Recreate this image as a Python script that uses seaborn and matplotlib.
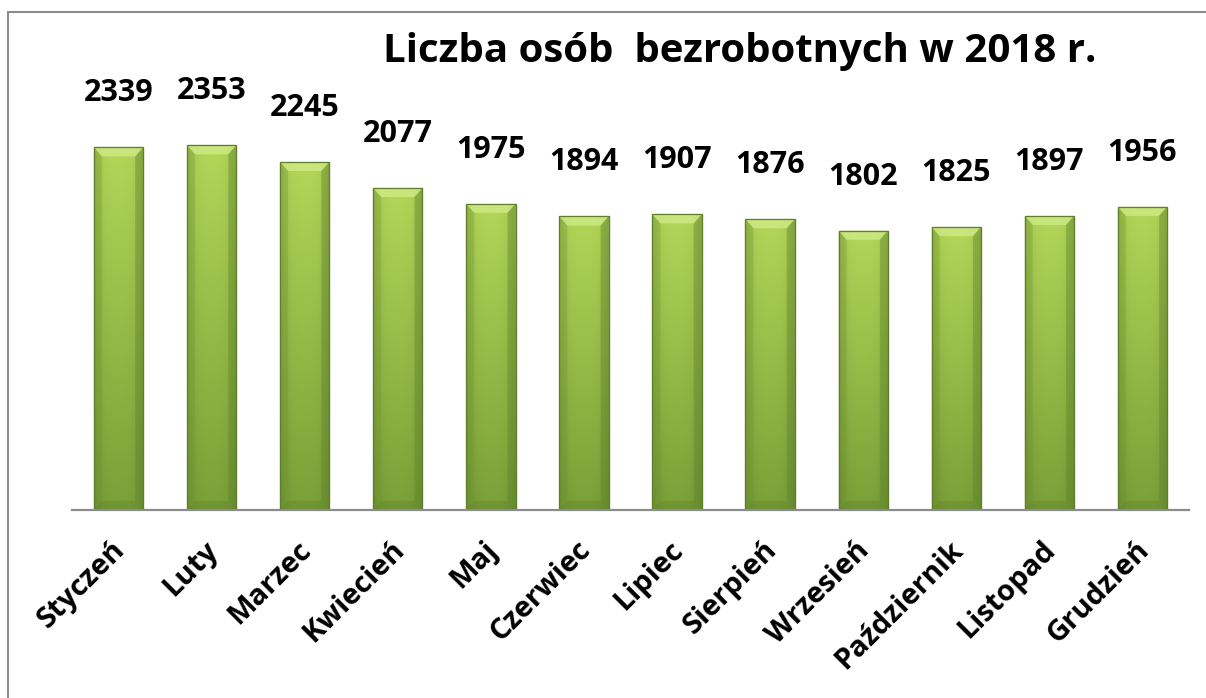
import numpy as np
import pandas as pd
import matplotlib
matplotlib.use("Agg")
import matplotlib.pyplot as plt
from matplotlib.patches import Polygon
import seaborn as sns

months = ["Styczeń", "Luty", "Marzec", "Kwiecień", "Maj", "Czerwiec", "Lipiec",
          "Sierpień", "Wrzesień", "Październik", "Listopad", "Grudzień"]
unemployed = [2339, 2353, 2245, 2077, 1975, 1894, 1907, 1876, 1802, 1825, 1897, 1956]
title = "Liczba osób  bezrobotnych w 2018 r."

sns.set_theme(style="white")
plt.rcParams["font.family"] = ["Open Sans", "DejaVu Sans"]

W, H = 1206, 698
fig = plt.figure(figsize=(W / 100, H / 100), dpi=100)
fig.patch.set_facecolor("white")
ax = fig.add_axes([72 / W, 1 - 510 / H, (1189 - 72) / W, 465 / H])

df = pd.DataFrame({"month": months, "value": unemployed})
sns.barplot(data=df, x="month", y="value", color="#97c04a", width=0.53,
            edgecolor="#5f7f2c", linewidth=0.8, saturation=1, ax=ax)
ax.set_ylim(0, 3000)
ax.set_xlim(-0.5, len(months) - 0.5)
ax.set_xlabel("")
ax.set_ylabel("")
ax.set_yticks([])
for s in ["top", "left", "right"]:
    ax.spines[s].set_visible(False)
ax.spines["bottom"].set_color("#8c8c8c")
ax.spines["bottom"].set_linewidth(1.6)
ax.tick_params(axis="x", length=0, pad=4)

# gradient fill with bevel look
py = ax.bbox.height / 3000.0
px = ax.bbox.width / len(months)
bx, by = 8 / px, 9 / py
top_c = np.array([178, 214, 88]) / 255
bot_c = np.array([122, 160, 56]) / 255
for p in ax.patches:
    x0, w, h = p.get_x(), p.get_width(), p.get_height()
    t = np.linspace(0, 1, 64)[:, None]
    s = np.linspace(-1, 1, 32)[None, :]
    col = top_c[None, None, :] * (1 - t[..., None]) + bot_c[None, None, :] * t[..., None]
    shade = (1 - 0.12 * np.abs(s) ** 3)[..., None]
    img = np.clip(col * shade, 0, 1)
    im = ax.imshow(img, extent=[x0, x0 + w, 0, h], aspect="auto", origin="upper",
                   zorder=p.get_zorder() + 0.1, interpolation="bilinear")
    im.set_clip_path(p)
    ax.add_patch(Polygon([(x0, h), (x0 + w, h), (x0 + w - bx, h - by), (x0 + bx, h - by)],
                         closed=True, fc="#d2ec8a", ec="none", alpha=0.75, zorder=p.get_zorder() + 0.2))
    ax.add_patch(Polygon([(x0, h), (x0 + bx, h - by), (x0 + bx, by), (x0, 0)],
                         closed=True, fc="#6e9430", ec="none", alpha=0.3, zorder=p.get_zorder() + 0.2))
    ax.add_patch(Polygon([(x0 + w, h), (x0 + w - bx, h - by), (x0 + w - bx, by), (x0 + w, 0)],
                         closed=True, fc="#5f832a", ec="none", alpha=0.4, zorder=p.get_zorder() + 0.2))
    ax.add_patch(Polygon([(x0, 0), (x0 + w, 0), (x0 + w - bx, by), (x0 + bx, by)],
                         closed=True, fc="#5f832a", ec="none", alpha=0.35, zorder=p.get_zorder() + 0.2))
    ax.add_patch(plt.Rectangle((x0, 0), w, h, fc="none", ec="#5f7f2c", lw=0.9,
                               zorder=p.get_zorder() + 0.3))

for i, v in enumerate(unemployed):
    ax.annotate(str(v), (i, v), xytext=(0, 39), textcoords="offset points",
                ha="center", va="center", fontsize=22, fontweight="bold", color="black")

ax.set_xticks(range(len(months)))
ax.set_xticklabels(months, rotation=45, ha="right", rotation_mode="anchor",
                   fontsize=21, fontweight="bold", color="black")
for lbl in ax.get_xticklabels():
    lbl.set_transform(lbl.get_transform() + matplotlib.transforms.ScaledTranslation(-8 / 100, -20 / 100, fig.dpi_scale_trans))

fig.text(383 / W, 1 - 62 / H, title, fontsize=29, fontweight="bold", color="black",
         ha="left", va="baseline")

# outer frame (top and left visible)
fig.add_artist(plt.Line2D([8 / W, 8 / W], [0, 1 - 12 / H], transform=fig.transFigure,
                          color="#8c8c8c", lw=1.5))
fig.add_artist(plt.Line2D([8 / W, 1.01], [1 - 12 / H, 1 - 12 / H], transform=fig.transFigure,
                          color="#8c8c8c", lw=1.5))

fig.savefig("out.png", dpi=100, facecolor="white")
